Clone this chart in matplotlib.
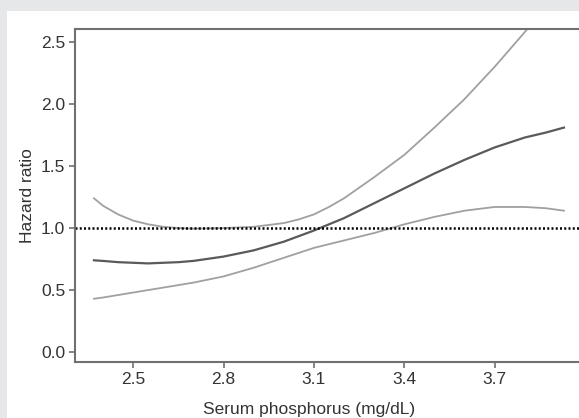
import matplotlib
matplotlib.use("Agg")
import matplotlib.pyplot as plt
from matplotlib.patches import Rectangle

# Values (hazard ratio vs serum phosphorus)
phos = [2.37, 2.40, 2.45, 2.50, 2.55, 2.60, 2.65, 2.70, 2.80, 2.90, 3.00, 3.05, 3.10, 3.15,
        3.20, 3.30, 3.40, 3.50, 3.60, 3.70, 3.80, 3.87, 3.93]
hr_mid = [0.74, 0.735, 0.725, 0.72, 0.715, 0.72, 0.725, 0.735, 0.77, 0.82, 0.89, 0.935, 0.98, 1.03,
          1.08, 1.20, 1.32, 1.44, 1.55, 1.65, 1.73, 1.77, 1.81]
hr_upper = [1.24, 1.18, 1.11, 1.06, 1.03, 1.01, 1.00, 0.995, 1.00, 1.01, 1.04, 1.07, 1.11, 1.17,
            1.24, 1.41, 1.59, 1.81, 2.04, 2.30, 2.58, 2.78, 2.95]
hr_lower = [0.43, 0.44, 0.46, 0.48, 0.50, 0.52, 0.54, 0.56, 0.61, 0.68, 0.76, 0.80, 0.84, 0.87,
            0.90, 0.96, 1.03, 1.09, 1.14, 1.17, 1.17, 1.16, 1.14]

x_ticks = [2.5, 2.8, 3.1, 3.4, 3.7]
y_ticks = [0.0, 0.5, 1.0, 1.5, 2.0, 2.5]

plt.rcParams['font.family'] = ['Liberation Sans', 'DejaVu Sans']

W, H = 579, 418
fig = plt.figure(figsize=(W / 100, H / 100), dpi=100, facecolor='#e6e7e8')

# white panel inside the grey frame
panel = Rectangle((7 / W, 0), 1 - 7 / W, 1 - 11 / H, transform=fig.transFigure,
                  facecolor='white', edgecolor='none', zorder=-10)
fig.add_artist(panel)

ax = fig.add_axes([75 / W, 1 - 362 / H, 1 - 75 / W, (362 - 29) / H])
ax.set_zorder(1)
ax.set_facecolor('white')

ax.plot(phos, hr_upper, color='#a0a0a0', lw=1.3)
ax.plot(phos, hr_lower, color='#a0a0a0', lw=1.3)
ax.plot(phos, hr_mid, color='#5a5a5a', lw=1.6)
ax.axhline(1.0, color='black', lw=1.8, ls=(0, (0.8, 0.9)))

ax.set_xlim(2.307, 3.98)
ax.set_ylim(-0.08, 2.605)
ax.set_xticks(x_ticks)
ax.set_xticklabels([f"{v:.1f}" for v in x_ticks])
ax.set_yticks(y_ticks)
ax.set_yticklabels([f"{v:.1f}" for v in y_ticks])

ax.spines['right'].set_visible(False)
for side in ['left', 'top', 'bottom']:
    ax.spines[side].set_color('#707070')
    ax.spines[side].set_linewidth(1.5)

ax.tick_params(colors='#707070', labelcolor='#333333', labelsize=12.5, length=4, width=1.2, pad=3)
ax.set_xlabel('Serum phosphorus (mg/dL)', fontsize=12.5, color='#333333')
ax.xaxis.set_label_coords(0.464, -0.12)
ax.set_ylabel('Hazard ratio', fontsize=12.5, color='#333333', labelpad=4)

fig.savefig('out.png', dpi=100, facecolor=fig.get_facecolor())
